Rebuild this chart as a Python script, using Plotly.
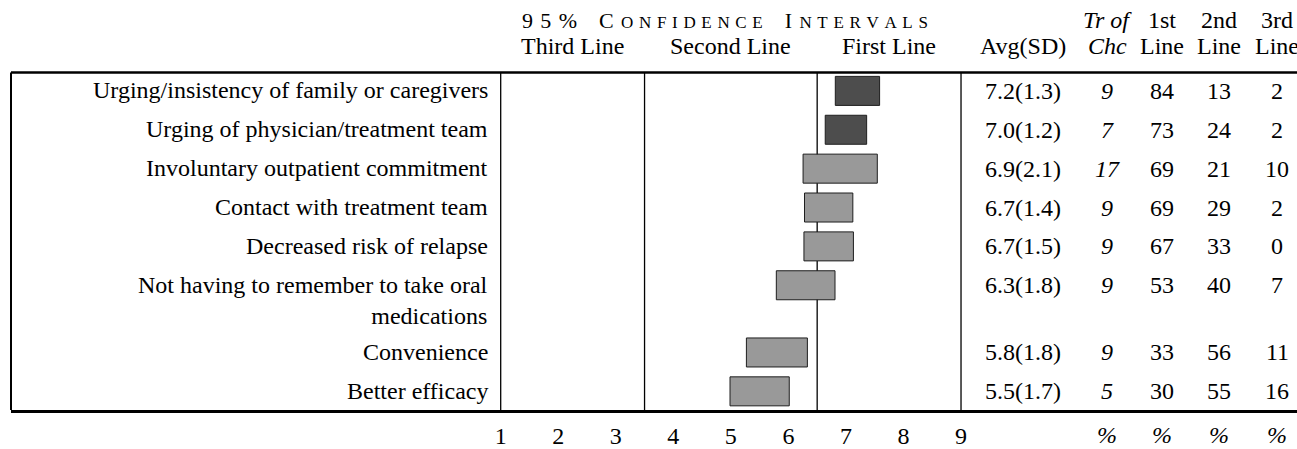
import plotly.graph_objects as go

# ---- data -------------------------------------------------------------
factors = [
    "Urging/insistency of family or caregivers",
    "Urging of physician/treatment team",
    "Involuntary outpatient commitment",
    "Contact with treatment team",
    "Decreased risk of relapse",
    "Not having to remember to take oral<br>medications",
    "Convenience",
    "Better efficacy",
]
avg = [7.2, 7.0, 6.9, 6.7, 6.7, 6.3, 5.8, 5.5]
sd = [1.3, 1.2, 2.1, 1.4, 1.5, 1.8, 1.8, 1.7]
ci_half = [0.385, 0.36, 0.645, 0.42, 0.43, 0.51, 0.53, 0.515]
tr_of_chc = [9, 7, 17, 9, 9, 9, 9, 5]
first_line = [84, 73, 69, 69, 67, 53, 33, 30]
second_line = [13, 24, 21, 29, 33, 40, 56, 55]
third_line = [2, 2, 10, 2, 0, 7, 11, 16]

zone_bounds = [1, 3.5, 6.5, 9]
zone_names = ["Third Line", "Second Line", "First Line"]
x_ticks = [1, 2, 3, 4, 5, 6, 7, 8, 9]

# ---- page geometry (pixels) ------------------------------------------
W, H = 1297, 449
ML, MB = 11, 25
PLOT_H = H - MB
TOP_RULE = 75
ROW0, ROW_PITCH, LINE_H = 94, 40.2, 29.3
PX_PER_UNIT = 57.54
X1_PX = 500.7

FONT = "Liberation Serif, Times New Roman, serif"
FS = 24

x_lo = 1 - (X1_PX - ML) / PX_PER_UNIT
x_hi = 9 + (W - (X1_PX + 8 * PX_PER_UNIT)) / PX_PER_UNIT


def px(xpix):
    return (xpix - ML) / (W - ML)


def py(ypix):
    return (PLOT_H - ypix) / PLOT_H


# row centres: a label running to two lines pushes the rows below it down
centres = []
extra = 0.0
for i, lab in enumerate(factors):
    centres.append(ROW0 + i * ROW_PITCH + extra)
    extra += lab.count("<br>") * LINE_H

lo = [m - h for m, h in zip(avg, ci_half)]
hi = [m + h for m, h in zip(avg, ci_half)]
colors = ["#4d4d4d" if l > zone_bounds[2] else "#999999" for l in lo]

fig = go.Figure()
fig.add_trace(go.Bar(
    orientation="h",
    y=centres,
    base=lo,
    x=[h - l for l, h in zip(lo, hi)],
    width=30,
    marker=dict(color=colors, line=dict(color="#1e1e1e", width=1)),
    hoverinfo="skip",
))

shapes = []
# frame rules
shapes.append(dict(type="line", xref="paper", yref="y", x0=0, x1=1,
                   y0=TOP_RULE, y1=TOP_RULE, line=dict(color="black", width=2.5)))
shapes.append(dict(type="line", xref="paper", yref="y", x0=0, x1=0,
                   y0=TOP_RULE, y1=PLOT_H, line=dict(color="black", width=2)))
for b in zone_bounds:
    shapes.append(dict(type="line", xref="x", yref="y", x0=b, x1=b,
                       y0=TOP_RULE, y1=PLOT_H, layer="below",
                       line=dict(color="black", width=1.3)))

ann = []


def text(x, y, s, xref="paper", yref="y", xanchor="center", yanchor="middle",
         size=FS, italic=False, **kw):
    f = dict(family=FONT, size=size, color="black")
    if italic:
        f["style"] = "italic"
    ann.append(dict(x=x, y=y, xref=xref, yref=yref, text=s, showarrow=False,
                    xanchor=xanchor, yanchor=yanchor, font=f, **kw))


def small_caps(word, big=22, small=17, gap="\u2004"):
    """Spaced small-capitals: first letter full size, the rest reduced."""
    head = word[0]
    tail = gap.join(word[1:].upper())
    return (f"<span style='font-size:{big}px'>{head}</span>{gap}"
            f"<span style='font-size:{small}px'>{tail}</span>")


# header
title = ("<span style='font-size:22px'>" + "\u2004".join("95%") + "</span>"
         + "\u2003" + small_caps("Confidence") + "\u2003"
         + small_caps("Intervals"))
text(4.9, 21, title, xref="x", size=22)
for name, a, b in zip(zone_names, zone_bounds[:-1], zone_bounds[1:]):
    text((a + b) / 2, 48, name, xref="x")

col_avg, col_tr, col_1, col_2, col_3 = 1023, 1107, 1162, 1219, 1277
text(px(col_avg), 48, "Avg(SD)")
text(px(col_tr), 21, "Tr of", italic=True)
text(px(col_tr), 48, "Chc", italic=True)
for c, top in zip([col_1, col_2, col_3], ["1st", "2nd", "3rd"]):
    text(px(c), 21, top)
    text(px(c), 48, "Line")

# rows
for i, lab in enumerate(factors):
    y = centres[i]
    text(px(490), y - LINE_H / 2 - 1.5, lab, xanchor="right", yanchor="top",
         align="right")
    text(px(col_avg), y, f"{avg[i]:.1f}({sd[i]:.1f})")
    text(px(col_tr), y, str(tr_of_chc[i]), italic=True)
    text(px(col_1), y, str(first_line[i]))
    text(px(col_2), y, str(second_line[i]))
    text(px(col_3), y, str(third_line[i]))

# unit row under the table columns
for c in [col_tr, col_1, col_2, col_3]:
    text(px(c), py(450), "%", yref="paper", italic=True)

fig.update_layout(
    width=W, height=H,
    margin=dict(l=ML, r=0, t=0, b=MB, pad=0),
    plot_bgcolor="white", paper_bgcolor="white",
    showlegend=False,
    shapes=shapes,
    annotations=ann,
    xaxis=dict(range=[x_lo, x_hi], tickvals=x_ticks, ticks="",
               showgrid=False, zeroline=False, ticklabelstandoff=2,
               showline=True, linecolor="black", linewidth=2.5,
               tickfont=dict(family=FONT, size=FS, color="black")),
    yaxis=dict(range=[PLOT_H, 0], visible=False, showgrid=False,
               zeroline=False),
)

fig.write_html("out.html")
